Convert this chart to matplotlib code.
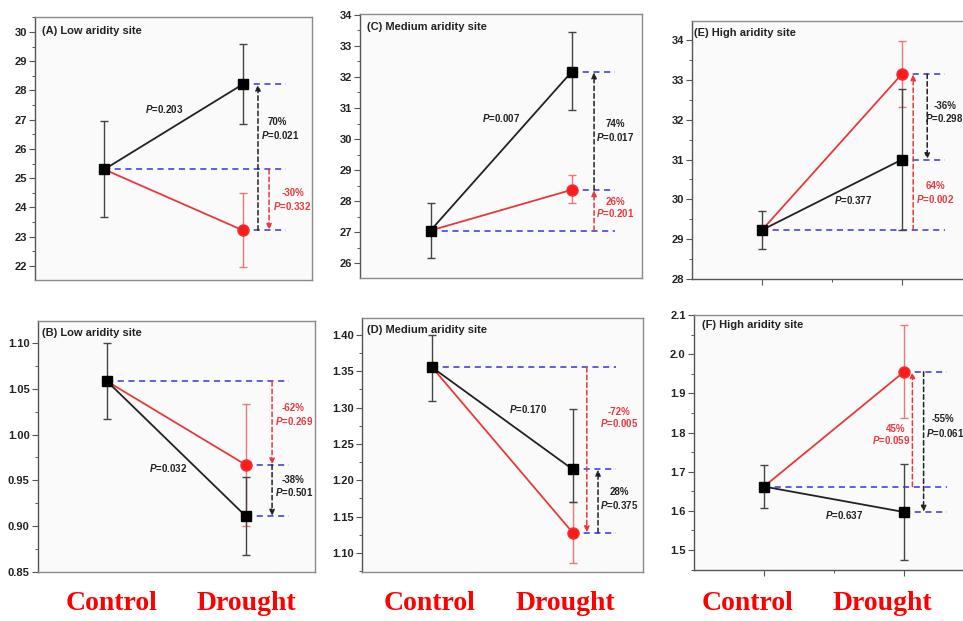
import matplotlib
matplotlib.use('Agg')
import matplotlib.pyplot as plt
from matplotlib.ticker import MultipleLocator, FormatStrFormatter

plt.rcParams['font.family'] = ['Liberation Sans', 'DejaVu Sans']
plt.rcParams['font.weight'] = 'bold'
plt.rcParams['mathtext.fontset'] = 'custom'
plt.rcParams['mathtext.it'] = 'Liberation Sans:italic:bold'
plt.rcParams['mathtext.rm'] = 'Liberation Sans:bold'
plt.rcParams['mathtext.bf'] = 'Liberation Sans:bold'

# ---------------- data ----------------
panel_titles = ['(A) Low aridity site', '(B) Low aridity site',
                '(C) Medium aridity site', '(D) Medium aridity site',
                '(E) High aridity site', '(F) High aridity site']
x_labels = ['Control', 'Drought']

control_mean = [25.30, 1.058, 27.05, 1.355, 29.23, 1.662]
control_lo = [23.66, 1.017, 26.16, 1.309, 28.75, 1.607]
control_hi = [26.97, 1.100, 27.94, 1.400, 29.72, 1.718]

black_mean = [28.21, 0.911, 32.16, 1.215, 31.00, 1.597]
black_lo = [26.86, 0.869, 30.93, 1.170, 29.24, 1.475]
black_hi = [29.58, 0.954, 33.44, 1.298, 32.76, 1.720]

red_mean = [23.22, 0.967, 28.36, 1.128, 33.15, 1.955]
red_lo = [21.97, 0.900, 27.94, 1.086, 32.32, 1.838]
red_hi = [24.48, 1.033, 28.84, 1.170, 33.98, 2.075]

p_line = ['0.203', '0.032', '0.007', '0.170', '0.377', '0.637']
black_pct = ['70%', '-38%', '74%', '28%', '-36%', '-55%']
black_p = ['0.021', '0.501', '0.017', '0.375', '0.298', '0.061']
red_pct = ['-30%', '-62%', '26%', '-72%', '64%', '45%']
red_p = ['0.332', '0.269', '0.201', '0.005', '0.002', '0.059']

# ---------------- layout ----------------
W, H = 963, 621
rects_px = [(35, 17, 312, 280), (38, 321, 315, 572),
            (360, 14, 642, 278), (362, 318, 643, 572),
            (692, 21, 972, 279), (694, 315, 974, 570)]
ylims = [(21.52, 30.51), (0.85, 1.124), (25.52, 34.03),
         (1.074, 1.423), (28.0, 34.48), (1.449, 2.1)]
major_step = [1, 0.05, 1, 0.05, 1, 0.1]
tick_fmt = ['%d', '%.2f', '%d', '%.2f', '%d', '%.1f']
# arrow x positions (black, red)
arrow_x = [(2.11, 2.19), (2.19, 2.19), (2.16, 2.16),
           (2.18, 2.10), (2.18, 2.08), (2.14, 2.06)]
# text positions: p_line, black pct, black p, red pct, red p  (x, y, ha)
text_pos = [
    [(1.43, 27.36, 'center'), (2.25, 26.92, 'center'), (2.27, 26.47, 'center'),
     (2.36, 24.48, 'center'), (2.36, 24.04, 'center')],
    [(1.44, 0.963, 'center'), (2.34, 0.950, 'center'), (2.35, 0.937, 'center'),
     (2.34, 1.029, 'center'), (2.35, 1.015, 'center')],
    [(1.50, 30.68, 'center'), (2.31, 30.48, 'center'), (2.31, 30.06, 'center'),
     (2.31, 27.97, 'center'), (2.31, 27.60, 'center')],
    [(1.68, 1.298, 'center'), (2.33, 1.184, 'center'), (2.33, 1.166, 'center'),
     (2.33, 1.294, 'center'), (2.33, 1.279, 'center')],
    [(1.65, 29.98, 'center'), (2.31, 32.34, 'center'), (2.165, 32.04, 'left'),
     (2.24, 30.33, 'center'), (2.24, 30.00, 'center')],
    [(1.57, 1.590, 'center'), (2.28, 1.834, 'center'), (2.155, 1.800, 'left'),
     (1.94, 1.810, 'center'), (1.91, 1.780, 'center')],
]
title_pos = [(0.025, 0.945), (0.015, 0.952), (0.025, 0.95),
             (0.018, 0.953), (0.008, 0.953), (0.029, 0.962)]

BLACK = '#222222'
RED = '#e8383d'
RED_ERR = '#e8787a'
BLUE = '#3535d8'

fig = plt.figure(figsize=(W / 100, H / 100), dpi=100)
fig.patch.set_facecolor('white')


def varrow(ax, x, y0, y1, color):
    ax.annotate('', xy=(x, y1), xytext=(x, y0),
                arrowprops=dict(arrowstyle='-|>,head_length=0.35,head_width=0.15',
                                linestyle=(0, (3, 2)), color=color, lw=1.1,
                                shrinkA=0, shrinkB=0), zorder=3)


for i in range(6):
    l, t, r, b = rects_px[i]
    ax = fig.add_axes([l / W, 1 - b / H, (r - l) / W, (b - t) / H])
    ax.set_facecolor('#fafafa')
    ax.set_xlim(0.5, 2.5)
    ax.set_ylim(*ylims[i])
    for name, sp in ax.spines.items():
        sp.set_color('#8a8a8a')
        sp.set_linewidth(1.0)
    ax.spines['left'].set_color('#555555')
    if i >= 4:
        ax.spines['bottom'].set_color('#555555')
    ax.yaxis.set_major_locator(MultipleLocator(major_step[i]))
    ax.yaxis.set_minor_locator(MultipleLocator(major_step[i] / 2))
    ax.yaxis.set_major_formatter(FormatStrFormatter(tick_fmt[i]))
    ax.tick_params(axis='y', which='major', direction='out', length=4, width=0.8,
                   color='#555555', labelsize=8, labelcolor='#222222', pad=2)
    ax.tick_params(axis='y', which='minor', direction='out', length=2.5, width=0.7,
                   color='#555555')
    if i >= 4:
        ax.set_xticks([1, 2])
        ax.set_xticks([1.5], minor=True)
        ax.set_xticklabels([])
        ax.tick_params(axis='x', which='major', direction='out', length=4, width=0.8,
                       color='#555555')
        ax.tick_params(axis='x', which='minor', direction='out', length=2.5, width=0.7,
                       color='#555555')
    else:
        ax.set_xticks([])

    c, bm, rm = control_mean[i], black_mean[i], red_mean[i]
    # blue reference lines
    ax.plot([1, 2.31], [c, c], ls=(0, (4, 3)), color=BLUE, lw=1.1, zorder=1)
    ax.plot([2, 2.31], [bm, bm], ls=(0, (4, 3)), color=BLUE, lw=1.1, zorder=1)
    ax.plot([2, 2.31], [rm, rm], ls=(0, (4, 3)), color=BLUE, lw=1.1, zorder=1)

    # arrows
    bx, rx = arrow_x[i]
    varrow(ax, rx, c, rm, RED)
    varrow(ax, bx, rm, bm, BLACK)

    # error bars
    ax.errorbar([2], [rm], yerr=[[rm - red_lo[i]], [red_hi[i] - rm]], fmt='none',
                ecolor=RED_ERR, elinewidth=1.0, capsize=3, capthick=1.0, zorder=2)
    ax.errorbar([2], [bm], yerr=[[bm - black_lo[i]], [black_hi[i] - bm]], fmt='none',
                ecolor='#444444', elinewidth=1.0, capsize=3, capthick=1.0, zorder=2)
    ax.errorbar([1], [c], yerr=[[c - control_lo[i]], [control_hi[i] - c]], fmt='none',
                ecolor='#444444', elinewidth=1.0, capsize=3, capthick=1.0, zorder=2)

    # lines
    ax.plot([1, 2], [c, rm], color=RED, lw=1.3, zorder=4)
    ax.plot([1, 2], [c, bm], color=BLACK, lw=1.3, zorder=4)
    ax.plot([2], [rm], marker='o', ms=8, color='#ff1a1a', mec='#e8383d', zorder=5, ls='none')
    ax.plot([2], [bm], marker='s', ms=7, color='black', zorder=5, ls='none')
    ax.plot([1], [c], marker='s', ms=7, color='black', zorder=6, ls='none')

    # texts
    tp = text_pos[i]
    ax.text(tp[0][0], tp[0][1], r'$\it{P}$=' + p_line[i], color=BLACK, fontsize=7,
            ha=tp[0][2], va='center')
    ax.text(tp[1][0], tp[1][1], black_pct[i], color=BLACK, fontsize=7,
            ha=tp[1][2], va='center')
    ax.text(tp[2][0], tp[2][1], r'$\it{P}$=' + black_p[i], color=BLACK, fontsize=7,
            ha=tp[2][2], va='center')
    ax.text(tp[3][0], tp[3][1], red_pct[i], color=RED, fontsize=7,
            ha=tp[3][2], va='center')
    ax.text(tp[4][0], tp[4][1], r'$\it{P}$=' + red_p[i], color=RED, fontsize=7,
            ha=tp[4][2], va='center')

    ax.text(title_pos[i][0], title_pos[i][1], panel_titles[i], transform=ax.transAxes,
            fontsize=8, fontweight='bold', color='#222222', ha='left', va='center')

# bottom group labels
label_px = [(112, 246), (430, 565), (748, 882)]
for cx, dx in label_px:
    for xp, lab in zip((cx, dx), x_labels):
        fig.text(xp / W, 1 - 604 / H, lab, family=['Liberation Serif', 'DejaVu Serif'],
                 fontsize=20, fontweight='bold', color='#ff0000', ha='center', va='center')

fig.savefig('out.png', dpi=100, facecolor='white')
